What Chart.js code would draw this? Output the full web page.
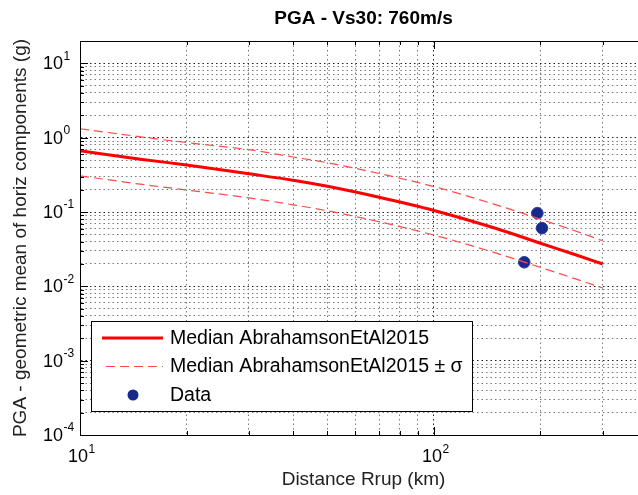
<!DOCTYPE html>
<html>
<head>
<meta charset="utf-8">
<style>
  html, body { margin: 0; padding: 0; background: #fff; overflow: hidden; }
  #wrap { width: 700px; height: 495px; }
</style>
<script src="https://cdn.jsdelivr.net/npm/chart.js@4.4.0/dist/chart.umd.min.js"></script>
</head>
<body>
<div id="wrap"><canvas id="chart" width="700" height="495"></canvas></div>
<script>
// GMPE curves (distance in km, PGA in g)
const distances = [10, 15, 20, 30, 40, 50, 70, 100, 150, 200, 250, 300];
const medianPGA = [0.668, 0.51, 0.43, 0.327, 0.268, 0.222, 0.158, 0.105, 0.060, 0.038, 0.0268, 0.020];
const upperPGA  = [1.32, 1.02, 0.86, 0.69, 0.55, 0.46, 0.33, 0.22, 0.125, 0.080, 0.056, 0.041];
const lowerPGA  = [0.307, 0.235, 0.198, 0.155, 0.125, 0.104, 0.074, 0.049, 0.028, 0.018, 0.0127, 0.0095];

// recorded data
const dataDist = [196, 202, 180];
const dataPGA  = [0.0966, 0.0607, 0.0211];

const titleText = 'PGA - Vs30: 760m/s';
const xTitle = 'Distance Rrup (km)';
const yTitle = 'PGA - geometric mean of horiz components (g)';
const legendLabels = ['Median AbrahamsonEtAl2015', 'Median AbrahamsonEtAl2015 \u00b1 \u03c3', 'Data'];

// axis decades and labelled ticks
const xDecades = [10, 100];
const yDecades = [1e-4, 1e-3, 1e-2, 1e-1, 1, 10];
const xExponents = ['1', '2'];
const yExponents = ['-4', '-3', '-2', '-1', '0', '1'];
const mantissas = [1, 2, 3, 4, 5, 6, 7, 8, 9];

const FONT = '"Liberation Sans", Arial, Helvetica, sans-serif';

function gridTicks(decades, min, max) {
    const out = [];
    decades.forEach(d => mantissas.forEach(m => {
        const v = +(d * m).toPrecision(3);
        if (v >= min && v <= max) out.push({ value: v, major: m === 1 });
    }));
    if (!out.some(t => t.value === max)) out.push({ value: max, major: false });
    return out;
}

const xGrid = gridTicks(xDecades, 10, 400);
const yGrid = gridTicks(yDecades, 1e-4, 20);

const gridColor = ctx => (ctx.tick && ctx.tick.major) ? '#222' : '#7a7a7a';

const labelsPlugin = {
    id: 'matlabText',
    afterDraw(chart) {
        const { ctx, chartArea: a } = chart;
        const xs = chart.scales.x, ys = chart.scales.y;
        ctx.save();
        ctx.fillStyle = '#000';

        // axes box
        ctx.strokeStyle = '#000';
        ctx.lineWidth = 1;
        ctx.strokeRect(a.left + 0.5, a.top + 0.5, a.right - a.left, a.bottom - a.top);

        // inward tick marks
        ctx.beginPath();
        xs.ticks.forEach(t => {
            const px = Math.round(xs.getPixelForValue(t.value)) + 0.5;
            const len = t.major ? 8 : 4;
            ctx.moveTo(px, a.bottom); ctx.lineTo(px, a.bottom - len);
            ctx.moveTo(px, a.top); ctx.lineTo(px, a.top + len);
        });
        ys.ticks.forEach(t => {
            const py = Math.round(ys.getPixelForValue(t.value)) + 0.5;
            const len = t.major ? 8 : 4;
            ctx.moveTo(a.left, py); ctx.lineTo(a.left + len, py);
        });
        ctx.stroke();

        // title
        ctx.font = 'bold 19px ' + FONT;
        ctx.textAlign = 'center';
        ctx.textBaseline = 'middle';
        ctx.fillText(titleText, (a.left + a.right) / 2, 19);

        // y tick labels
        yDecades.forEach((v, i) => {
            const py = ys.getPixelForValue(v);
            ctx.font = '18px ' + FONT;
            ctx.textAlign = 'right';
            ctx.fillText('10', 63, py + 1);
            ctx.font = '12px ' + FONT;
            ctx.textAlign = 'left';
            ctx.fillText(yExponents[i], 63.5, py - 7);
        });

        // x tick labels
        xDecades.forEach((v, i) => {
            const px = xs.getPixelForValue(v);
            ctx.font = '18px ' + FONT;
            ctx.textAlign = 'right';
            ctx.fillText('10', px + 8, 457);
            ctx.font = '12px ' + FONT;
            ctx.textAlign = 'left';
            ctx.fillText(xExponents[i], px + 8.5, 450);
        });

        // legend
        const lx = 91, ly = 321, lw = 381, lh = 90;
        ctx.fillStyle = '#fff';
        ctx.fillRect(lx, ly, lw, lh);
        ctx.strokeStyle = '#000';
        ctx.lineWidth = 1;
        ctx.strokeRect(lx + 0.5, ly + 0.5, lw, lh);

        const ds = chart.data.datasets;
        const rows = [338, 366, 395];
        ctx.strokeStyle = ds[0].borderColor;
        ctx.lineWidth = ds[0].borderWidth;
        ctx.beginPath(); ctx.moveTo(102, rows[0]); ctx.lineTo(163, rows[0]); ctx.stroke();
        ctx.strokeStyle = ds[1].borderColor;
        ctx.lineWidth = ds[1].borderWidth;
        ctx.setLineDash(ds[1].borderDash);
        ctx.beginPath(); ctx.moveTo(106, rows[1] + 0.5); ctx.lineTo(163, rows[1] + 0.5); ctx.stroke();
        ctx.setLineDash([]);
        ctx.fillStyle = ds[3].backgroundColor;
        ctx.beginPath(); ctx.arc(133, rows[2], 5.5, 0, Math.PI * 2); ctx.fill();

        ctx.fillStyle = '#000';
        ctx.font = '19.5px ' + FONT;
        ctx.textAlign = 'left';
        ctx.textBaseline = 'middle';
        legendLabels.forEach((t, i) => ctx.fillText(t, 170, rows[i] + 1));
        ctx.restore();
    }
};

const toPoints = (xv, yv) => xv.map((x, i) => ({ x, y: yv[i] }));

new Chart(document.getElementById('chart'), {
    type: 'line',
    data: {
        datasets: [
            {
                label: legendLabels[0],
                data: toPoints(distances, medianPGA),
                borderColor: '#ff0000',
                borderWidth: 3,
                pointRadius: 0,
                cubicInterpolationMode: 'monotone'
            },
            {
                label: legendLabels[1],
                data: toPoints(distances, upperPGA),
                borderColor: '#ff4a4a',
                borderWidth: 1.2,
                borderDash: [9, 5],
                pointRadius: 0,
                cubicInterpolationMode: 'monotone'
            },
            {
                label: legendLabels[1],
                data: toPoints(distances, lowerPGA),
                borderColor: '#ff4a4a',
                borderWidth: 1.2,
                borderDash: [9, 5],
                pointRadius: 0,
                cubicInterpolationMode: 'monotone'
            },
            {
                type: 'scatter',
                label: legendLabels[2],
                data: toPoints(dataDist, dataPGA),
                backgroundColor: '#17298c',
                borderColor: '#2a3d9e',
                borderWidth: 1,
                pointRadius: 5.8,
                showLine: false
            }
        ]
    },
    options: {
        responsive: false,
        animation: false,
        layout: { padding: { top: 41, right: 53, left: 0, bottom: 0 } },
        plugins: {
            legend: { display: false },
            tooltip: { enabled: false },
            title: { display: false }
        },
        scales: {
            x: {
                type: 'logarithmic',
                position: 'bottom',
                min: 10,
                max: 400,
                afterBuildTicks(scale) { scale.ticks = xGrid.map(t => ({ ...t })); },
                afterFit(scale) { scale.height = 60; },
                ticks: { display: false },
                grid: { color: gridColor, lineWidth: 1, drawTicks: false },
                border: { display: true, color: '#000', width: 1, dash: [1.5, 3] },
                title: {
                    display: true,
                    text: xTitle,
                    color: '#222',
                    font: { family: FONT, size: 19 },
                    padding: { top: 0, bottom: 4 }
                }
            },
            y: {
                type: 'logarithmic',
                position: 'left',
                min: 1e-4,
                max: 20,
                afterBuildTicks(scale) { scale.ticks = yGrid.map(t => ({ ...t })); },
                afterFit(scale) { scale.width = 80; },
                ticks: { display: false },
                grid: { color: gridColor, lineWidth: 1, drawTicks: false },
                border: { display: true, color: '#000', width: 1, dash: [1.5, 3] },
                title: {
                    display: true,
                    text: yTitle,
                    color: '#222',
                    font: { family: FONT, size: 19 },
                    padding: { top: 9, bottom: 0 }
                }
            }
        }
    },
    plugins: [labelsPlugin]
});
</script>
</body>
</html>
